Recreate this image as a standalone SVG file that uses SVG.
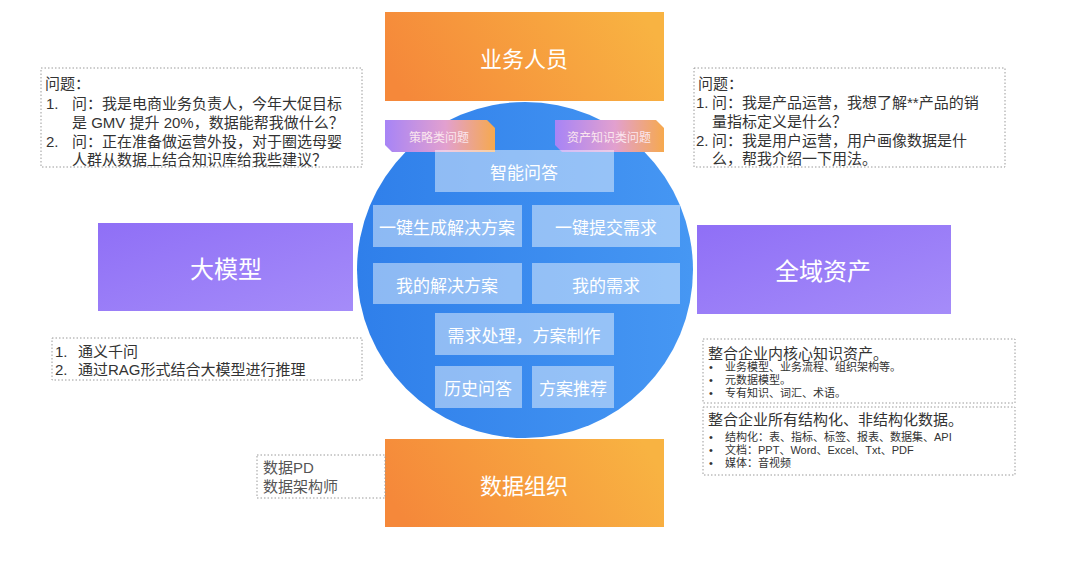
<svg xmlns="http://www.w3.org/2000/svg" width="1080" height="568" viewBox="0 0 1080 568">
<defs>
<linearGradient id="gOrange" x1="0" y1="0.6" x2="1" y2="0.4">
<stop offset="0" stop-color="#f5883a"/>
<stop offset="1" stop-color="#f8b342"/>
</linearGradient>
<linearGradient id="gPurple" x1="0" y1="0" x2="1" y2="1">
<stop offset="0" stop-color="#8f6ff6"/>
<stop offset="1" stop-color="#a58cf9"/>
</linearGradient>
<linearGradient id="gBlue" x1="0" y1="0" x2="1" y2="0">
<stop offset="0" stop-color="#2f7fea"/>
<stop offset="1" stop-color="#4697f3"/>
</linearGradient>
<linearGradient id="gTag" x1="0" y1="0" x2="1" y2="0">
<stop offset="0" stop-color="#a784f6"/>
<stop offset="0.55" stop-color="#e2a0cf"/>
<stop offset="1" stop-color="#f6a94e"/>
</linearGradient>
<style>
text{font-family:"Noto Sans CJK SC","Liberation Sans",sans-serif;}
.big{fill:#ffffff;text-anchor:middle;dominant-baseline:central;}
.inner{fill:rgba(255,255,255,0.45);}
.it{fill:#ffffff;text-anchor:middle;dominant-baseline:central;font-size:17px;}
.tag{fill:#fbe6ee;text-anchor:middle;dominant-baseline:central;font-size:12px;}
.note{fill:none;stroke:#9a9a9a;stroke-width:1;stroke-dasharray:1.5 2;}
.t15,.t11,.gray{font-family:"Liberation Sans","Noto Sans CJK SC",sans-serif;dominant-baseline:central;}
.t15{fill:#333333;font-size:15px;}
.t11{fill:#333333;font-size:11px;}
.gray{fill:#555555;font-size:15px;}
</style>
</defs>
<rect width="1080" height="568" fill="#ffffff"/>

<g id="connectors"></g>

<g id="circle">
<circle cx="525" cy="270" r="168" fill="url(#gBlue)"/>
</g>

<g id="node-business">
<rect x="385" y="12" width="279" height="89" fill="url(#gOrange)"/>
<text class="big" x="524" y="57" font-size="22">业务人员</text>
</g>

<g id="node-data-org">
<rect x="385" y="439" width="279" height="88" fill="url(#gOrange)"/>
<text class="big" x="524" y="484" font-size="22">数据组织</text>
</g>

<g id="node-llm">
<rect x="98" y="223" width="255" height="88" fill="url(#gPurple)"/>
<text class="big" x="226" y="267" font-size="24">大模型</text>
</g>

<g id="node-assets">
<rect x="697" y="225" width="254" height="89" fill="url(#gPurple)"/>
<text class="big" x="823" y="269" font-size="24">全域资产</text>
</g>

<g id="tag-strategy">
<polygon points="385,120 487,120 495,128 495,152 392,152 385,145" fill="url(#gTag)"/>
<text class="tag" x="439" y="136">策略类问题</text>
</g>
<g id="tag-asset">
<polygon points="555,120 656,120 664,128 664,152 562,152 555,145" fill="url(#gTag)"/>
<text class="tag" x="609" y="136">资产知识类问题</text>
</g>

<g id="node-qa">
<rect class="inner" x="435" y="150" width="179" height="42"/>
<text class="it" x="524" y="171" font-size="19">智能问答</text>
</g>
<g id="node-gen">
<rect class="inner" x="373" y="205" width="149" height="42"/>
<text class="it" x="447" y="226">一键生成解决方案</text>
</g>
<g id="node-submit">
<rect class="inner" x="532" y="205" width="148" height="42"/>
<text class="it" x="606" y="226">一键提交需求</text>
</g>
<g id="node-mysol">
<rect class="inner" x="373" y="263" width="149" height="41"/>
<text class="it" x="447" y="284">我的解决方案</text>
</g>
<g id="node-myreq">
<rect class="inner" x="532" y="263" width="148" height="41"/>
<text class="it" x="606" y="284">我的需求</text>
</g>
<g id="node-process">
<rect class="inner" x="435" y="313" width="179" height="42"/>
<text class="it" x="524" y="334">需求处理，方案制作</text>
</g>
<g id="node-history">
<rect class="inner" x="435" y="366" width="87" height="42"/>
<text class="it" x="478" y="387" font-size="15">历史问答</text>
</g>
<g id="node-recommend">
<rect class="inner" x="532" y="366" width="82" height="42"/>
<text class="it" x="573" y="387" font-size="15">方案推荐</text>
</g>

<g id="note-left-top">
<rect class="note" x="41" y="68" width="321" height="99"/>
<text class="t15" x="45" y="83">问题：</text>
<text class="t15" x="46" y="103">1.</text>
<text class="t15" x="72" y="103">问：我是电商业务负责人，今年大促目标</text>
<text class="t15" x="72" y="122">是 GMV 提升 20%，数据能帮我做什么？</text>
<text class="t15" x="46" y="141">2.</text>
<text class="t15" x="72" y="141">问：正在准备做运营外投，对于圈选母婴</text>
<text class="t15" x="72" y="159">人群从数据上结合知识库给我些建议？</text>
</g>

<g id="note-right-top">
<rect class="note" x="694" y="68" width="311" height="99"/>
<text class="t15" x="698" y="83">问题：</text>
<text class="t15" x="696" y="102">1.</text>
<text class="t15" x="712" y="102">问：我是产品运营，我想了解**产品的销</text>
<text class="t15" x="712" y="121">量指标定义是什么？</text>
<text class="t15" x="696" y="140">2.</text>
<text class="t15" x="712" y="140">问：我是用户运营，用户画像数据是什</text>
<text class="t15" x="712" y="158">么，帮我介绍一下用法。</text>
</g>

<g id="note-left-bottom">
<rect class="note" x="52" y="338" width="310" height="42"/>
<text class="t15" x="55" y="351">1.</text>
<text class="t15" x="78" y="351">通义千问</text>
<text class="t15" x="55" y="369">2.</text>
<text class="t15" x="78" y="369">通过RAG形式结合大模型进行推理</text>
</g>

<g id="note-data-pd">
<rect class="note" x="257" y="455" width="128" height="43"/>
<text class="gray" x="263" y="467">数据PD</text>
<text class="gray" x="263" y="486">数据架构师</text>
</g>

<g id="note-assets-1">
<rect class="note" x="703" y="339" width="312" height="64"/>
<text class="t15" x="708" y="353">整合企业内核心知识资产。</text>
<text class="t11" x="709" y="367">•</text>
<text class="t11" x="725" y="367">业务模型、业务流程、组织架构等。</text>
<text class="t11" x="709" y="380">•</text>
<text class="t11" x="725" y="380">元数据模型。</text>
<text class="t11" x="709" y="393">•</text>
<text class="t11" x="725" y="393">专有知识、词汇、术语。</text>
</g>

<g id="note-assets-2">
<rect class="note" x="703" y="407" width="312" height="68"/>
<text class="t15" x="708" y="419">整合企业所有结构化、非结构化数据。</text>
<text class="t11" x="709" y="437">•</text>
<text class="t11" x="725" y="437">结构化：表、指标、标签、报表、数据集、API</text>
<text class="t11" x="709" y="450">•</text>
<text class="t11" x="725" y="450">文档：PPT、Word、Excel、Txt、PDF</text>
<text class="t11" x="709" y="463">•</text>
<text class="t11" x="725" y="463">媒体：音视频</text>
</g>
</svg>
